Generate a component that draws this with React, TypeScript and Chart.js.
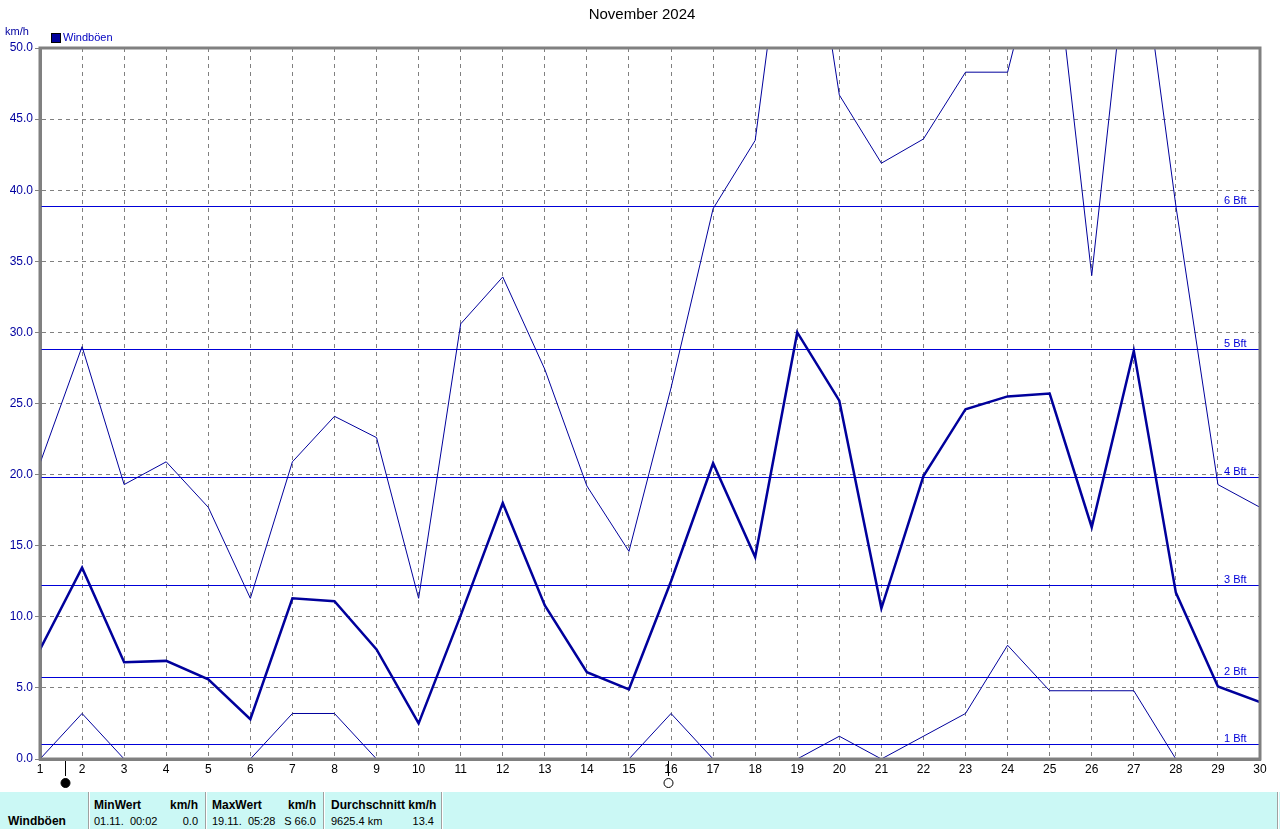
import React, { useEffect, useRef } from "react";
import { Chart, registerables } from "chart.js";

Chart.register(...registerables);

const days = [1, 2, 3, 4, 5, 6, 7, 8, 9, 10, 11, 12, 13, 14, 15, 16, 17, 18, 19, 20, 21, 22, 23, 24, 25, 26, 27, 28, 29, 30];
const maxGust = [20.8, 29.0, 19.3, 20.9, 17.7, 11.3, 20.9, 24.1, 22.6, 11.3, 30.6, 33.9, 27.4, 19.2, 14.6, 26.1, 38.7, 43.5, 66.0, 46.7, 41.9, 43.6, 48.3, 48.3, 60.0, 34.0, 61.0, 38.9, 19.3, 17.7];
const avgGust = [7.7, 13.45, 6.8, 6.9, 5.6, 2.8, 11.3, 11.1, 7.7, 2.5, 10.1, 18.0, 10.8, 6.1, 4.9, 12.5, 20.8, 14.2, 30.0, 25.2, 10.6, 19.9, 24.6, 25.5, 25.7, 16.3, 28.7, 11.7, 5.1, 4.0];
const minGust = [0, 3.2, 0, 0, 0, 0, 3.2, 3.2, 0, 0, 0, 0, 0, 0, 0, 3.2, 0, 0, 0, 1.6, 0, 1.6, 3.2, 8.0, 4.8, 4.8, 4.8, 0, 0, 0];
const bftLabels = ["1 Bft", "2 Bft", "3 Bft", "4 Bft", "5 Bft", "6 Bft"];
const bftValues = [1.08, 5.76, 12.24, 19.8, 28.8, 38.88];
const moonDays = [1.59, 15.93];
const moonFilled = [true, false];
const yTicks = [0, 5, 10, 15, 20, 25, 30, 35, 40, 45, 50];

const FONT = "'Liberation Sans', Arial, sans-serif";
const DATA_COLOR = "#00009c";
const BFT_COLOR = "#0000d8";
const GRID_COLOR = "#808080";

const pts = (vals: number[]) => days.map((d, i) => ({ x: d, y: vals[i] }));

const decorPlugin = {
  id: "decor",
  beforeDatasetsDraw(chart: any) {
    const { ctx, chartArea, scales } = chart;
    const y = scales.y;
    ctx.save();
    ctx.strokeStyle = BFT_COLOR;
    ctx.lineWidth = 1;
    ctx.fillStyle = BFT_COLOR;
    ctx.font = `11px ${FONT}`;
    ctx.textAlign = "left";
    ctx.textBaseline = "alphabetic";
    bftValues.forEach((v, i) => {
      const py = Math.round(y.getPixelForValue(v)) + 0.5;
      ctx.beginPath();
      ctx.moveTo(chartArea.left, py);
      ctx.lineTo(chartArea.right, py);
      ctx.stroke();
      ctx.fillText(bftLabels[i], chartArea.right - 36, py - 3);
    });
    ctx.restore();
  },
  afterDraw(chart: any) {
    const { ctx, chartArea, scales } = chart;
    const x = scales.x;
    ctx.save();
    // frame
    ctx.strokeStyle = GRID_COLOR;
    ctx.lineWidth = 3;
    ctx.strokeRect(chartArea.left, chartArea.top, chartArea.right - chartArea.left, chartArea.bottom - chartArea.top);
    // title
    ctx.fillStyle = "#000";
    ctx.font = `15px ${FONT}`;
    ctx.textAlign = "center";
    ctx.textBaseline = "middle";
    ctx.fillText("November 2024", 642, 15);
    // unit
    ctx.fillStyle = "#0000a0";
    ctx.font = `11px ${FONT}`;
    ctx.textAlign = "left";
    ctx.fillText("km/h", 5, 32);
    // legend
    ctx.fillStyle = DATA_COLOR;
    ctx.fillRect(51, 33, 10, 10);
    ctx.strokeStyle = "#000";
    ctx.lineWidth = 1;
    ctx.strokeRect(51.5, 33.5, 9, 9);
    ctx.fillStyle = "#0000c0";
    ctx.font = `11px ${FONT}`;
    ctx.fillText("Windböen", 63, 38);
    // moon phases
    moonDays.forEach((d, i) => {
      const px = Math.round(x.getPixelForValue(d)) + 0.5;
      ctx.strokeStyle = "#000";
      ctx.lineWidth = 1;
      ctx.beginPath();
      ctx.moveTo(px, chartArea.bottom + 2);
      ctx.lineTo(px, chartArea.bottom + 17);
      ctx.stroke();
      ctx.beginPath();
      ctx.arc(px, chartArea.bottom + 24, 4.5, 0, Math.PI * 2);
      if (moonFilled[i]) {
        ctx.fillStyle = "#000";
        ctx.fill();
      }
      ctx.stroke();
    });
    ctx.restore();
  },
};

function StatsPanel() {
  const cell: React.CSSProperties = { position: "absolute", fontFamily: FONT, fontSize: 11, color: "#000", lineHeight: "14px", whiteSpace: "pre" };
  const head: React.CSSProperties = { ...cell, fontSize: 12, fontWeight: "bold", top: 6 };
  const sep = (left: number) => (
    <div style={{ position: "absolute", left, top: 0, width: 1, height: 37, background: "#a0a0a0", borderRight: "1px solid #fff" }} />
  );
  return (
    <div style={{ position: "absolute", left: 0, top: 792, width: 1280, height: 37, background: "#cbf8f5" }}>
      <div style={{ ...head, left: 8, top: 22 }}>Windböen</div>
      {sep(88)}
      <div style={{ ...head, left: 94 }}>MinWert</div>
      <div style={{ ...head, left: 150, width: 48, textAlign: "right" }}>km/h</div>
      <div style={{ ...cell, left: 94, top: 22 }}>{"01.11.  00:02"}</div>
      <div style={{ ...cell, left: 150, width: 48, textAlign: "right", top: 22 }}>0.0</div>
      {sep(205)}
      <div style={{ ...head, left: 212 }}>MaxWert</div>
      <div style={{ ...head, left: 268, width: 48, textAlign: "right" }}>km/h</div>
      <div style={{ ...cell, left: 212, top: 22 }}>{"19.11.  05:28"}</div>
      <div style={{ ...cell, left: 268, width: 48, textAlign: "right", top: 22 }}>S 66.0</div>
      {sep(323)}
      <div style={{ ...head, left: 331 }}>Durchschnitt km/h</div>
      <div style={{ ...cell, left: 331, top: 22 }}>9625.4 km</div>
      <div style={{ ...cell, left: 386, width: 48, textAlign: "right", top: 22 }}>13.4</div>
      {sep(441)}
      {sep(1277)}
    </div>
  );
}

export default function App() {
  const ref = useRef<HTMLCanvasElement | null>(null);
  useEffect(() => {
    if (!ref.current) return;
    const lineDs = (label: string, vals: number[], width: number) => ({
      label,
      data: pts(vals),
      borderColor: DATA_COLOR,
      backgroundColor: DATA_COLOR,
      borderWidth: width,
      pointRadius: 0,
      tension: 0,
      fill: false,
    });
    const chart = new Chart(ref.current, {
      type: "line",
      data: {
        datasets: [lineDs("Max", maxGust, 1), lineDs("Windböen", avgGust, 2.5), lineDs("Min", minGust, 1)],
      },
      plugins: [decorPlugin],
      options: {
        animation: false,
        responsive: false,
        layout: { padding: { top: 48, right: 20, left: 0, bottom: 0 } },
        plugins: { legend: { display: false }, title: { display: false }, tooltip: { enabled: false } },
        scales: {
          x: {
            type: "linear",
            min: 1,
            max: 30,
            afterFit: (s: any) => { s.height = 33; },
            ticks: {
              stepSize: 1,
              autoSkip: false,
              maxRotation: 0,
              color: "#000",
              font: { family: FONT, size: 12 },
              padding: 3,
              callback: (v: any) => String(v),
            },
            grid: { color: GRID_COLOR, lineWidth: 1, drawTicks: false, tickLength: 0 },
            border: { display: true, color: GRID_COLOR, width: 3, dash: [4, 4] },
          },
          y: {
            type: "linear",
            min: 0,
            max: 50,
            afterFit: (s: any) => { s.width = 40; },
            afterBuildTicks: (s: any) => { s.ticks = yTicks.map((v) => ({ value: v })); },
            ticks: {
              color: "#0000a0",
              font: { family: FONT, size: 12 },
              padding: 2,
              callback: (v: any) => Number(v).toFixed(1),
            },
            grid: { color: GRID_COLOR, lineWidth: 1, drawTicks: true, tickLength: 5 },
            border: { display: true, color: GRID_COLOR, width: 3, dash: [4, 4] },
          },
        },
      },
    } as any);
    return () => chart.destroy();
  }, []);
  return (
    <div style={{ position: "absolute", left: 0, top: 0, width: 1280, height: 829, background: "#fff", overflow: "hidden" }}>
      <canvas ref={ref} width={1280} height={792} style={{ display: "block" }} />
      <StatsPanel />
    </div>
  );
}
